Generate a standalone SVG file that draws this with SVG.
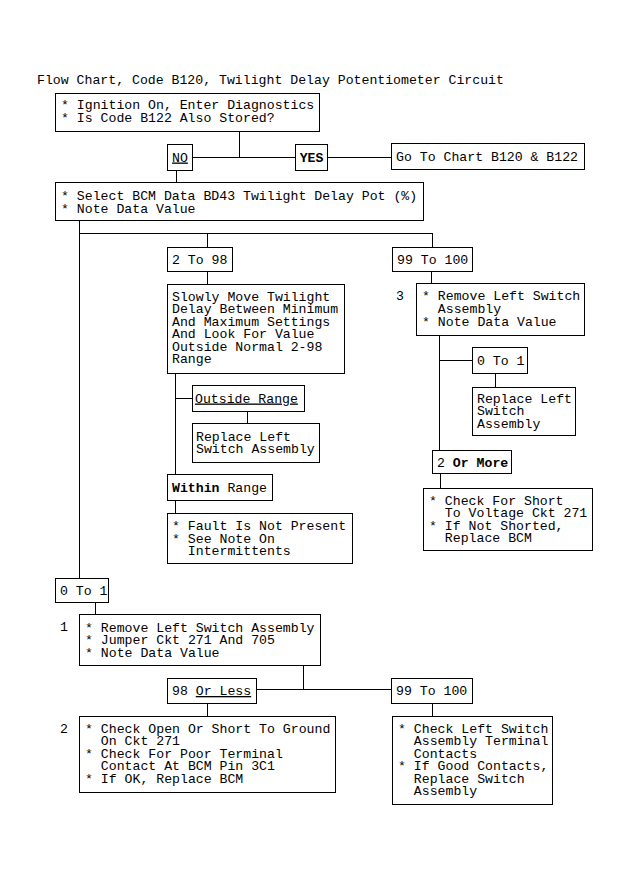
<svg xmlns="http://www.w3.org/2000/svg" width="630" height="880" viewBox="0 0 630 880">
<style>
text{font-family:"Liberation Mono","DejaVu Sans Mono",monospace;font-size:13.2px;fill:#000;}
.b rect{fill:#fff;stroke:#000;stroke-width:1;shape-rendering:crispEdges;}
#connectors line{stroke:#000;stroke-width:1;shape-rendering:crispEdges;}
.bold{font-weight:bold;}
.u{text-decoration:underline;}
</style>
<rect width="630" height="880" fill="#fff"/>
<text x="37" y="84">Flow Chart, Code B120, Twilight Delay Potentiometer Circuit</text>
<g id="connectors">
<line x1="239.5" y1="131" x2="239.5" y2="157.5"/>
<line x1="192" y1="157.5" x2="295" y2="157.5"/>
<line x1="327" y1="157.5" x2="391" y2="157.5"/>
<line x1="176.5" y1="170" x2="176.5" y2="182"/>
<line x1="79.5" y1="220" x2="79.5" y2="578"/>
<line x1="79.5" y1="233.5" x2="432.5" y2="233.5"/>
<line x1="207.5" y1="233.5" x2="207.5" y2="247"/>
<line x1="432.5" y1="233.5" x2="432.5" y2="247"/>
<line x1="207.5" y1="271" x2="207.5" y2="284"/>
<line x1="431.5" y1="271" x2="431.5" y2="283"/>
<line x1="439.5" y1="335" x2="439.5" y2="450"/>
<line x1="439.5" y1="360.5" x2="472" y2="360.5"/>
<line x1="495.5" y1="373" x2="495.5" y2="387"/>
<line x1="440.5" y1="473" x2="440.5" y2="488"/>
<line x1="175.5" y1="373" x2="175.5" y2="474"/>
<line x1="175.5" y1="398.5" x2="192" y2="398.5"/>
<line x1="247.5" y1="411" x2="247.5" y2="423"/>
<line x1="175.5" y1="500" x2="175.5" y2="513"/>
<line x1="95.5" y1="602" x2="95.5" y2="614"/>
<line x1="303.5" y1="665" x2="303.5" y2="689.5"/>
<line x1="256" y1="689.5" x2="391" y2="689.5"/>
<line x1="207.5" y1="703" x2="207.5" y2="716"/>
<line x1="432.5" y1="703" x2="432.5" y2="716"/>
</g>
<g id="n_start" class="b"><rect x="55.5" y="93.5" width="264" height="38"/>
<text x="61" y="108.5" xml:space="preserve"><tspan x="61">* Ignition On, Enter Diagnostics</tspan><tspan x="61" dy="13.5">* Is Code B122 Also Stored?</tspan></text></g>
<g id="n_no" class="b"><rect x="167.5" y="144.5" width="25" height="26"/>
<text x="180" y="161.5" text-anchor="middle" class="u">NO</text></g>
<g id="n_yes" class="b"><rect x="295.5" y="144.5" width="32" height="26"/>
<text x="311.5" y="161.5" text-anchor="middle" class="bold">YES</text></g>
<g id="n_goto" class="b"><rect x="391.5" y="143.5" width="193" height="26"/>
<text x="396" y="160.5">Go To Chart B120 &amp; B122</text></g>
<g id="n_select" class="b"><rect x="55.5" y="182.5" width="368" height="38"/>
<text x="61" y="199.5" xml:space="preserve"><tspan x="61">* Select BCM Data BD43 Twilight Delay Pot (%)</tspan><tspan x="61" dy="13">* Note Data Value</tspan></text></g>
<g id="n_2to98" class="b"><rect x="167.5" y="247.5" width="65" height="24"/>
<text x="172" y="263.5">2 To 98</text></g>
<g id="n_99to100a" class="b"><rect x="392.5" y="247.5" width="80" height="24"/>
<text x="397" y="263.5">99 To 100</text></g>
<g id="n_slowly" class="b"><rect x="167.5" y="284.5" width="177" height="89"/>
<text x="172" y="300.5"><tspan x="172">Slowly Move Twilight</tspan><tspan x="172" dy="12.5">Delay Between Minimum</tspan><tspan x="172" dy="12.5">And Maximum Settings</tspan><tspan x="172" dy="12.5">And Look For Value</tspan><tspan x="172" dy="12.5">Outside Normal 2-98</tspan><tspan x="172" dy="12.5">Range</tspan></text></g>
<g id="n_step3" class="b"><text x="396" y="299.5">3</text>
<rect x="416.5" y="283.5" width="168" height="52"/>
<text x="422" y="299.5" xml:space="preserve"><tspan x="422">* Remove Left Switch</tspan><tspan x="422" dy="13">  Assembly</tspan><tspan x="422" dy="13">* Note Data Value</tspan></text></g>
<g id="n_0to1a" class="b"><rect x="472.5" y="347.5" width="55" height="26"/>
<text x="477" y="364.5">0 To 1</text></g>
<g id="n_replace_a" class="b"><rect x="472.5" y="387.5" width="103" height="48"/>
<text x="477" y="402.5"><tspan x="477">Replace Left</tspan><tspan x="477" dy="12.5">Switch</tspan><tspan x="477" dy="12.5">Assembly</tspan></text></g>
<g id="n_outside" class="b"><rect x="192.5" y="385.5" width="112" height="26"/>
<text x="195" y="402.5" class="u">Outside Range</text></g>
<g id="n_replace_b" class="b"><rect x="192.5" y="423.5" width="127" height="39"/>
<text x="196" y="440.5"><tspan x="196">Replace Left</tspan><tspan x="196" dy="12.5">Switch Assembly</tspan></text></g>
<g id="n_within" class="b"><rect x="167.5" y="474.5" width="105" height="26"/>
<text x="172" y="491.5"><tspan class="bold">Within</tspan> Range</text></g>
<g id="n_fault" class="b"><rect x="167.5" y="513.5" width="185" height="50"/>
<text x="172" y="529.5" xml:space="preserve"><tspan x="172">* Fault Is Not Present</tspan><tspan x="172" dy="13">* See Note On</tspan><tspan x="172" dy="12.5">  Intermittents</tspan></text></g>
<g id="n_2ormore" class="b"><rect x="432.5" y="450.5" width="79" height="23"/>
<text x="437" y="466.5">2 <tspan class="bold">Or More</tspan></text></g>
<g id="n_short" class="b"><rect x="423.5" y="488.5" width="169" height="62"/>
<text x="429" y="504.5" xml:space="preserve"><tspan x="429">* Check For Short</tspan><tspan x="429" dy="12.5">  To Voltage Ckt 271</tspan><tspan x="429" dy="12.5">* If Not Shorted,</tspan><tspan x="429" dy="12.5">  Replace BCM</tspan></text></g>
<g id="n_0to1b" class="b"><rect x="55.5" y="578.5" width="53" height="24"/>
<text x="60" y="594.5">0 To 1</text></g>
<g id="n_step1" class="b"><text x="60" y="631">1</text>
<rect x="79.5" y="614.5" width="241" height="51"/>
<text x="85" y="631.5" xml:space="preserve"><tspan x="85">* Remove Left Switch Assembly</tspan><tspan x="85" dy="12.5">* Jumper Ckt 271 And 705</tspan><tspan x="85" dy="12.5">* Note Data Value</tspan></text></g>
<g id="n_98orless" class="b"><rect x="167.5" y="678.5" width="89" height="25"/>
<text x="172" y="695">98 <tspan class="u">Or Less</tspan></text></g>
<g id="n_99to100b" class="b"><rect x="391.5" y="678.5" width="81" height="25"/>
<text x="396" y="695">99 To 100</text></g>
<g id="n_step2" class="b"><text x="60" y="732.5">2</text>
<rect x="79.5" y="716.5" width="256" height="76"/>
<text x="85" y="732.5" xml:space="preserve"><tspan x="85">* Check Open Or Short To Ground</tspan><tspan x="85" dy="12.5">  On Ckt 271</tspan><tspan x="85" dy="12.5">* Check For Poor Terminal</tspan><tspan x="85" dy="12.5">  Contact At BCM Pin 3C1</tspan><tspan x="85" dy="12.5">* If OK, Replace BCM</tspan></text></g>
<g id="n_checkleft" class="b"><rect x="392.5" y="716.5" width="160" height="88"/>
<text x="398" y="732.5" xml:space="preserve"><tspan x="398">* Check Left Switch</tspan><tspan x="398" dy="12.5">  Assembly Terminal</tspan><tspan x="398" dy="12.5">  Contacts</tspan><tspan x="398" dy="12.5">* If Good Contacts,</tspan><tspan x="398" dy="12.5">  Replace Switch</tspan><tspan x="398" dy="12.5">  Assembly</tspan></text></g>
</svg>
